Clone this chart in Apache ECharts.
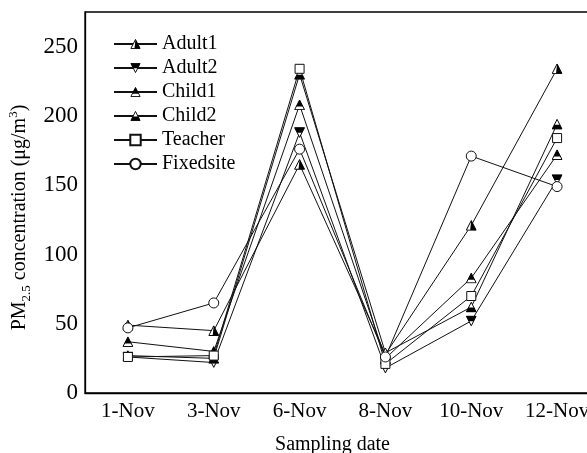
<!DOCTYPE html>
<html>
<head>
<meta charset="utf-8">
<script src="https://cdn.jsdelivr.net/npm/echarts@6/dist/echarts.min.js"></script>
<style>
  html, body { margin: 0; padding: 0; background: #fff; }
  #chart { width: 587px; height: 453px; }
</style>
</head>
<body>
<div id="chart"></div>
<script>
var dates = ['1-Nov', '3-Nov', '6-Nov', '8-Nov', '10-Nov', '12-Nov'];
var yTicks = [0, 50, 100, 150, 200, 250];

var adult1 = [49, 45, 165, 28, 121, 234];
var adult2 = [26, 22, 188, 18, 52, 154];
var child1 = [37, 30, 208, 25, 83, 172];
var child2 = [27, 25, 230, 29, 62, 194];
var teacher = [26, 27, 234, 21, 70, 184];
var fixedsite = [47, 65, 176, 26, 171, 149];

// marker pictures, half filled triangles like the printed figure
function svgIcon(inner) {
    var svg = '<svg xmlns="http://www.w3.org/2000/svg" width="20" height="20" viewBox="0 0 10 10">' + inner + '</svg>';
    return 'image://data:image/svg+xml;charset=utf-8,' + encodeURIComponent(svg);
}
var tri = '<polygon points="5,0.6 9.5,9.4 0.5,9.4" fill="none" stroke="#000" stroke-width="0.9"/>';
var triInv = '<polygon points="0.5,0.6 9.5,0.6 5,9.4" fill="none" stroke="#000" stroke-width="0.9"/>';

var symAdult1 = svgIcon('<polygon points="5,0.6 9.5,9.4 0.5,9.4" fill="#fff"/><polygon points="5,0.6 9.5,9.4 4,9.4" fill="#000"/>' + tri);
var symAdult2 = svgIcon('<polygon points="0.5,0.6 9.5,0.6 5,9.4" fill="#fff"/><polygon points="0.5,0.6 9.5,0.6 7.1,5.3 2.9,5.3" fill="#000"/>' + triInv);
var symChild1 = svgIcon('<polygon points="5,0.6 9.5,9.4 0.5,9.4" fill="#fff"/><polygon points="5,0.6 8.1,6.6 1.9,6.6" fill="#000"/>' + tri);
var symChild2 = svgIcon('<polygon points="5,0.6 9.5,9.4 0.5,9.4" fill="#fff"/><polygon points="2.5,5.4 7.5,5.4 9.5,9.4 0.5,9.4" fill="#000"/>' + tri);

var font = 'Liberation Serif';

function makeSeries(name, data, symbol, size) {
    return {
        name: name,
        type: 'line',
        data: data,
        symbol: symbol,
        symbolSize: size,
        showAllSymbol: true,
        lineStyle: { color: '#111', width: 1 },
        itemStyle: { color: '#fff', borderColor: '#111', borderWidth: 1 }
    };
}

var chart = echarts.init(document.getElementById('chart'));

var option = {
    backgroundColor: '#fff',
    animation: false,
    textStyle: { fontFamily: font, color: '#000' },
    grid: {
        left: 85,
        top: 12,
        bottom: 60,
        width: 515,
        outerBoundsMode: 'none',
        containLabel: false,
        show: true,
        borderColor: '#000',
        borderWidth: 1.3
    },
    legend: {
        orient: 'vertical',
        left: 113,
        top: 34,
        padding: 0,
        itemWidth: 43,
        itemHeight: 13,
        itemGap: 4,
        textStyle: { fontFamily: font, fontSize: 20, color: '#000', lineHeight: 20 },
        data: ['Adult1', 'Adult2', 'Child1', 'Child2', 'Teacher', 'Fixedsite']
    },
    xAxis: {
        type: 'category',
        data: dates,
        boundaryGap: true,
        name: 'Sampling date',
        nameLocation: 'middle',
        nameGap: 42,
        nameTextStyle: { fontFamily: font, fontSize: 20, color: '#000', padding: [0, 20, 0, 0] },
        axisLine: { lineStyle: { color: '#000', width: 1.3 } },
        axisTick: { inside: true, alignWithLabel: true, length: 6, lineStyle: { color: '#000' } },
        axisLabel: { fontFamily: font, fontSize: 21, color: '#000', margin: 8 },
        splitLine: { show: false }
    },
    yAxis: {
        type: 'value',
        min: yTicks[0],
        max: 275,
        interval: 50,
        name: '{a|PM}{sub|2.5}{a| concentration (μg/m}{sup|3}{a|)}',
        nameLocation: 'middle',
        nameGap: 52,
        nameTextStyle: {
            padding: [0, 30, 0, 0],
            rich: {
                a: { fontFamily: font, fontSize: 20, color: '#000', lineHeight: 26 },
                sub: { fontFamily: font, fontSize: 13, color: '#000', lineHeight: 26, verticalAlign: 'bottom' },
                sup: { fontFamily: font, fontSize: 13, color: '#000', lineHeight: 26, verticalAlign: 'top' }
            }
        },
        axisLine: { show: true, lineStyle: { color: '#000', width: 1.3 } },
        axisTick: { inside: true, length: 6, lineStyle: { color: '#000' } },
        axisLabel: {
            fontFamily: font, fontSize: 23, color: '#000', margin: 7,
            showMaxLabel: false,
            formatter: function (v) { return yTicks.indexOf(v) >= 0 ? String(v) : ''; }
        },
        splitLine: { show: false }
    },
    series: [
        makeSeries('Adult1', adult1, symAdult1, 11),
        makeSeries('Adult2', adult2, symAdult2, 11),
        makeSeries('Child1', child1, symChild1, 11),
        makeSeries('Child2', child2, symChild2, 11),
        makeSeries('Teacher', teacher, 'rect', 9),
        makeSeries('Fixedsite', fixedsite, 'circle', 10)
    ]
};

chart.setOption(option);
</script>
</body>
</html>
